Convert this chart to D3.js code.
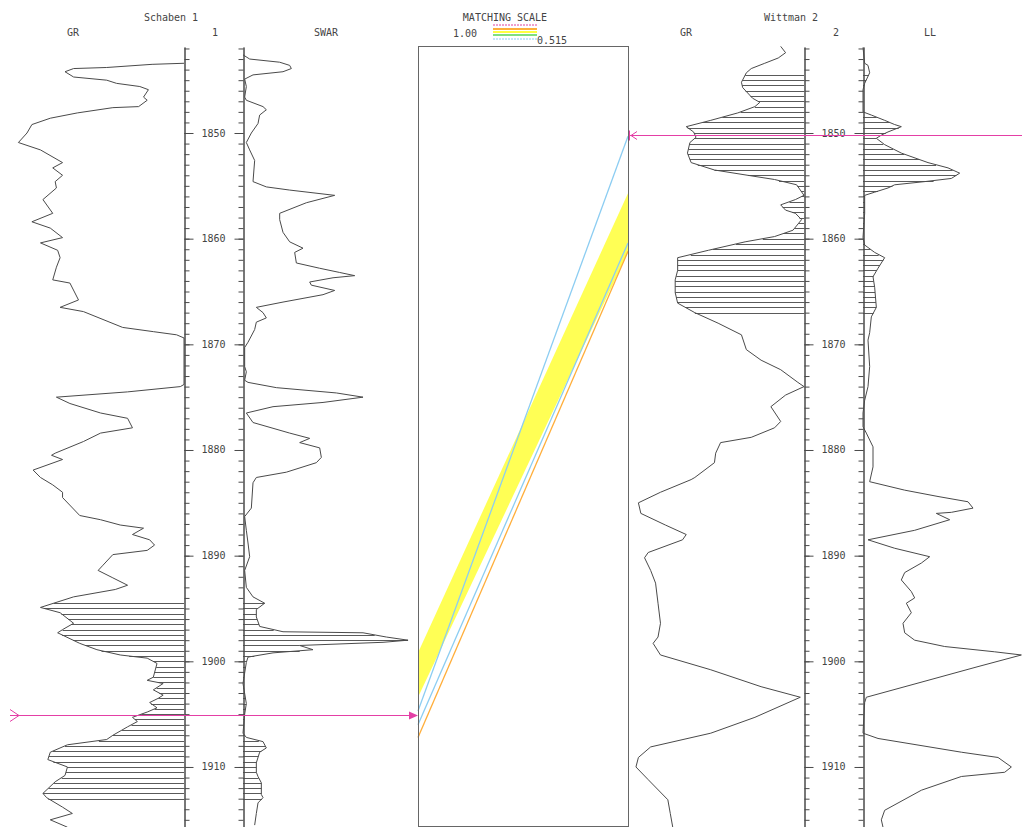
<!DOCTYPE html>
<html><head><meta charset="utf-8">
<script src="https://cdn.jsdelivr.net/npm/d3@7"></script>
<style>
html,body{margin:0;padding:0;background:#fff;}
svg{display:block;}
text{font-family:"DejaVu Sans Mono",monospace;font-size:10px;fill:#444;}
</style>
</head><body>
<svg id="chart" width="1022" height="827"></svg>
<script>
// ---------------- DATA ----------------
const depthTicks = [1850, 1860, 1870, 1880, 1890, 1900, 1910];
const wellNames = ["Schaben 1", "Wittman 2"];
const wellNumbers = ["1", "2"];
const trackNames = ["GR", "SWAR", "GR", "LL"];

// [depth (ft), value]
const schabenGR = [[1843.4,0],[1843.5,26],[1843.8,63],[1843.9,90],[1844.2,97],[1844.7,90],[1845.0,63],[1845.3,55],[1845.6,36],[1845.9,29],[1846.6,33],[1846.9,30],[1847.5,37],[1847.6,58],[1848.1,87],[1848.6,109],[1849.2,124],[1850.0,128],[1850.9,135],[1851.6,117],[1852.8,99],[1853.3,107],[1854.0,99],[1854.6,105],[1855.2,104],[1856.3,115],[1857.6,107],[1858.4,124],[1859.0,109],[1859.9,99],[1860.4,117],[1861.1,103],[1861.8,101],[1862.7,104],[1863.9,107],[1864.2,93],[1865.8,86],[1866.5,101],[1866.9,82],[1868.4,50],[1868.8,25],[1869.1,6],[1869.4,0],[1873.8,0],[1874.0,3],[1874.5,46],[1875.0,104],[1875.6,93],[1876.5,68],[1877.0,46],[1877.9,42],[1878.4,68],[1879.2,82],[1880.3,105],[1880.5,108],[1880.9,99],[1881.9,123],[1882.6,117],[1883.3,107],[1884.0,99],[1884.5,99],[1886.2,85],[1886.6,68],[1887.1,52],[1887.4,33],[1888.0,42],[1888.5,28],[1889.0,24],[1889.5,30],[1889.9,58],[1890.9,66],[1891.4,70],[1892.1,58],[1892.8,46],[1893.2,56],[1893.9,90],[1894.9,117],[1895.4,101],[1896.4,90],[1897.0,99],[1897.3,103],[1898.3,85],[1898.9,71],[1899.4,52],[1899.7,30],[1900.2,22],[1901.5,25],[1901.8,30],[1902.1,17],[1902.7,25],[1903.2,17],[1903.5,21],[1903.9,28],[1904.4,22],[1904.8,30],[1905.3,42],[1905.7,38],[1906.2,46],[1907.0,58],[1907.4,63],[1907.9,95],[1908.6,109],[1909.3,111],[1910.0,95],[1910.8,97],[1911.4,105],[1912.5,115],[1912.9,112],[1913.8,99],[1914.4,91],[1915.0,109],[1915.7,95]];

const schabenSWAR = [[1842.6,0],[1843.0,4],[1843.3,22],[1843.6,28],[1843.9,29],[1844.2,24],[1844.5,6],[1844.9,1],[1845.6,2],[1846.6,1],[1846.9,2],[1847.5,12],[1847.8,14],[1848.3,10],[1849.1,9],[1850.0,5],[1850.9,2],[1851.6,4],[1852.6,7],[1854.6,6],[1855.1,14],[1855.4,28],[1855.9,55],[1856.6,38],[1857.6,22],[1858.2,22],[1859.4,24],[1860.3,28],[1860.9,36],[1861.3,31],[1862.3,32],[1862.8,46],[1863.2,58],[1863.5,67],[1863.7,54],[1864.1,40],[1864.4,41],[1864.9,55],[1865.3,48],[1866.0,24],[1866.5,8],[1867.0,12],[1867.5,14],[1867.9,8],[1868.6,7],[1869.8,3],[1870.3,1],[1872.1,1],[1872.6,2],[1873.4,1],[1873.6,3],[1874.1,20],[1874.6,56],[1875.0,72],[1875.5,48],[1875.9,18],[1876.5,2],[1877.4,6],[1878.4,28],[1878.9,40],[1879.3,34],[1879.8,46],[1880.7,47],[1881.2,44],[1882.1,26],[1882.6,8],[1883.1,6],[1885.5,5],[1886.3,1],[1887.6,2],[1888.8,3],[1890.1,4],[1891.4,1],[1893.0,2],[1893.9,6],[1894.5,13],[1895.1,8],[1895.8,8],[1896.7,10],[1897.2,24],[1897.3,72],[1897.7,86],[1898.0,99],[1898.2,84],[1898.5,34],[1898.9,42],[1899.2,18],[1899.6,3],[1900.1,2],[1902.1,0],[1904.0,2],[1905.0,1],[1906.8,0],[1907.2,2],[1907.6,12],[1908.2,14],[1908.6,10],[1909.6,8],[1910.5,8],[1910.9,9],[1911.5,11],[1912.6,11],[1912.9,12],[1913.4,9],[1914.4,8],[1915.5,7]];

const wittmanGR = [[1841.8,19],[1842.4,15],[1842.9,21],[1843.4,32],[1843.9,43],[1844.3,47],[1845.2,51],[1845.7,50],[1846.7,42],[1847.1,36],[1847.5,40],[1848.1,54],[1848.8,76],[1849.4,96],[1849.9,90],[1850.4,88],[1850.9,93],[1851.9,95],[1852.8,92],[1853.5,73],[1854.0,46],[1854.4,24],[1854.9,6],[1855.9,0],[1856.3,7],[1856.8,19],[1857.3,15],[1857.6,7],[1858.2,2],[1859.2,9],[1859.8,24],[1860.3,48],[1861.1,78],[1861.8,103],[1863.0,103],[1863.9,105],[1865.1,105],[1866.1,103],[1867.0,89],[1868.0,70],[1869.1,51],[1870.5,47],[1871.5,35],[1872.4,19],[1873.6,5],[1874.0,0],[1874.8,15],[1875.9,27],[1877.3,19],[1877.9,24],[1878.8,43],[1879.3,68],[1880.3,72],[1881.2,73],[1882.6,89],[1882.8,92],[1884.0,117],[1885.0,135],[1886.0,133],[1887.1,113],[1888.0,96],[1888.5,99],[1889.7,127],[1890.2,130],[1891.4,125],[1892.6,121],[1894.5,119],[1896.4,117],[1897.7,119],[1898.3,123],[1899.4,117],[1900.8,76],[1902.4,35],[1903.4,3],[1905.3,40],[1906.8,76],[1908.1,125],[1909.1,135],[1910.0,137],[1911.2,127],[1913.1,111],[1914.4,109],[1915.7,107]];

const wittmanLL = [[1841.9,0],[1843.4,1],[1843.6,3],[1844.3,4],[1845.3,1],[1845.9,0],[1848.0,0],[1848.3,5],[1848.8,13],[1849.2,19],[1849.4,23],[1849.9,15],[1850.2,11],[1850.5,8],[1851.1,13],[1851.9,23],[1852.8,39],[1853.3,51],[1853.8,58],[1854.3,53],[1854.6,37],[1854.9,19],[1855.2,15],[1855.6,7],[1855.9,1],[1857.6,1],[1859.9,0],[1860.6,1],[1861.3,7],[1861.8,13],[1862.8,9],[1863.6,6],[1864.6,7],[1866.5,8],[1867.4,5],[1868.9,4],[1869.6,3],[1872.1,4],[1874.0,3],[1875.3,1],[1876.5,0],[1877.8,0],[1878.4,2],[1879.7,6],[1881.6,6],[1883.0,4],[1883.8,25],[1884.4,45],[1884.9,63],[1885.5,66],[1885.9,53],[1886.0,44],[1886.6,52],[1887.6,31],[1888.5,3],[1889.3,19],[1890.1,40],[1890.7,35],[1891.6,25],[1892.3,23],[1893.4,29],[1894.0,31],[1894.5,26],[1895.4,29],[1896.4,24],[1897.3,25],[1898.0,31],[1898.6,49],[1899.1,79],[1899.4,95],[1900.5,69],[1901.8,39],[1903.4,2],[1903.9,1],[1906.8,0],[1907.3,9],[1908.6,59],[1909.1,81],[1910.0,89],[1910.5,85],[1910.9,59],[1912.2,35],[1914.1,13],[1915.0,11],[1915.7,12]];

const schabenZone = [1894.5, 1913.0];
const wittmanZone = [1844.5, 1867.0];
const markerDepths = [1905.1, 1850.2];

// correlation lines: depth in Schaben 1 -> depth in Wittman 2
const matchLines = [
  {left: 1904.7, right: 1850.3, color: "#8ccdf2"},
  {left: 1906.0, right: 1860.4, color: "#8ccdf2"},
  {left: 1907.2, right: 1861.2, color: "#ffae3a"}
];
const matchBand = {leftTop: 1899.2, leftBot: 1903.4, rightTop: 1855.7, rightBot: 1861.3, color: "#ffff55"};
const legendColors = ["#e0409c", "#ffae3a", "#ffff40", "#7fe07f", "#8ccdf2"];
const legendLabels = ["1.00", "0.515"];

// ---------------- DRAW ----------------
const svg = d3.select("#chart");
const y = d3.scaleLinear().domain([1841.86, 1915.68]).range([47, 827]);
const xSGR = d3.scaleLinear().domain([0, 150]).range([184, 0]);
const xSW = d3.scaleLinear().domain([0, 100]).range([243, 409.7]);
const xWGR = d3.scaleLinear().domain([0, 150]).range([804, 620]);
const xLL = d3.scaleLinear().domain([0, 100]).range([863, 1029.7]);
const boxL = 418, boxR = 628;
const ink = "#4a4a4a";

function valueAt(data, d) {
  const i = d3.bisector(p => p[0]).left(data, d);
  if (i <= 0) return data[0][1];
  if (i >= data.length) return data[data.length - 1][1];
  const a = data[i - 1], b = data[i];
  const t = (d - a[0]) / ((b[0] - a[0]) || 1);
  return a[1] + t * (b[1] - a[1]);
}

function hatch(data, xs, zone) {
  const g = svg.append("g").attr("stroke", "#5a5a5a").attr("stroke-width", 1);
  d3.range(zone[0], zone[1] + 0.001, 0.5).forEach(d => {
    const yy = Math.round(y(d)) + 0.5;
    g.append("line").attr("x1", xs(0)).attr("x2", xs(valueAt(data, d)))
      .attr("y1", yy).attr("y2", yy);
  });
}

function curve(data, xs) {
  svg.append("path").datum(data)
    .attr("d", d3.line().x(p => xs(p[1])).y(p => y(p[0])))
    .attr("fill", "none").attr("stroke", ink).attr("stroke-width", 1);
}

// correlation panel
const band = [[boxL, y(matchBand.leftTop)], [boxR, y(matchBand.rightTop)], [boxR, y(matchBand.rightBot)], [boxL, y(matchBand.leftBot)]];
svg.append("path").attr("d", d3.line()(band) + "Z").attr("fill", matchBand.color).attr("stroke", "none");
matchLines.forEach(m => {
  svg.append("line").attr("x1", boxL).attr("y1", y(m.left)).attr("x2", boxR).attr("y2", y(m.right))
    .attr("stroke", m.color).attr("stroke-width", 1.3);
});
svg.append("rect").attr("x", boxL + 0.5).attr("y", 46.5).attr("width", boxR - boxL).attr("height", 780)
  .attr("fill", "none").attr("stroke", "#666").attr("stroke-width", 1);

// hatching and curves
hatch(schabenGR, xSGR, schabenZone);
hatch(schabenSWAR, xSW, schabenZone);
hatch(wittmanGR, xWGR, wittmanZone);
hatch(wittmanLL, xLL, wittmanZone);
curve(schabenGR, xSGR);
curve(schabenSWAR, xSW);
curve(wittmanGR, xWGR);
curve(wittmanLL, xLL);

// depth axes
const minor = d3.range(1842, 1916, 1);
function depthAxis(xPos, dir) {
  const mk = dir > 0 ? d3.axisRight : d3.axisLeft;
  const g1 = svg.append("g").attr("transform", `translate(${xPos + 0.5},0)`)
    .call(mk(y).tickValues(minor).tickSize(5).tickSizeOuter(0).tickFormat(""));
  const g2 = svg.append("g").attr("transform", `translate(${xPos + 0.5},0)`)
    .call(mk(y).tickValues(depthTicks).tickSize(9).tickSizeOuter(0).tickFormat(""));
  [g1, g2].forEach(g => { g.selectAll("path,line").attr("stroke", ink); });
}
depthAxis(184, 1); depthAxis(243, -1);
depthAxis(804, 1); depthAxis(863, -1);

[213.5, 833.5].forEach(cx => {
  svg.append("g").selectAll("text").data(depthTicks).join("text")
    .attr("x", cx).attr("y", d => y(d) + 3.5).attr("text-anchor", "middle").text(d => d);
});

// titles
function label(x, yy, t, anchor) {
  svg.append("text").attr("x", x).attr("y", yy).attr("text-anchor", anchor || "middle").text(t);
}
label(171, 21, wellNames[0]);
label(791, 21, wellNames[1]);
label(73, 36, trackNames[0]);
label(215, 36, wellNumbers[0]);
label(326, 36, trackNames[1]);
label(686, 36, trackNames[2]);
label(836, 36, wellNumbers[1]);
label(930, 36, trackNames[3]);
label(505, 21, "MATCHING SCALE");
label(465, 37, legendLabels[0]);
label(537, 44, legendLabels[1], "start");

// legend lines
const legY = [25, 29, 32, 35, 39];
legendColors.forEach((c, i) => {
  svg.append("line").attr("x1", 493).attr("x2", 537).attr("y1", legY[i]).attr("y2", legY[i])
    .attr("stroke", c).attr("stroke-width", (i === 0 || i === 4) ? 1 : 2)
    .attr("stroke-dasharray", (i === 0 || i === 4) ? "2,1" : null);
});

// markers
const pink = "#e43fa6";
const yl = Math.round(y(markerDepths[0])) + 0.5;
svg.append("line").attr("x1", 10).attr("x2", 414).attr("y1", yl).attr("y2", yl)
  .attr("stroke", pink);
svg.append("polyline").attr("points", `10,${yl - 6} 19,${yl} 10,${yl + 6}`)
  .attr("fill", "none").attr("stroke", pink);
svg.append("path").attr("d", `M409,${yl - 4}L418,${yl}L409,${yl + 4}Z`).attr("fill", pink);

const yr = Math.round(y(markerDepths[1])) + 0.5;
svg.append("line").attr("x1", 629).attr("x2", 1022).attr("y1", yr).attr("y2", yr)
  .attr("stroke", pink);
svg.append("polyline").attr("points", `637,${yr - 4} 631,${yr} 637,${yr + 4}`)
  .attr("fill", "none").attr("stroke", pink);
svg.append("line").attr("x1", 629.5).attr("x2", 629.5).attr("y1", yr - 5).attr("y2", yr + 5).attr("stroke", pink);
</script>
</body></html>
